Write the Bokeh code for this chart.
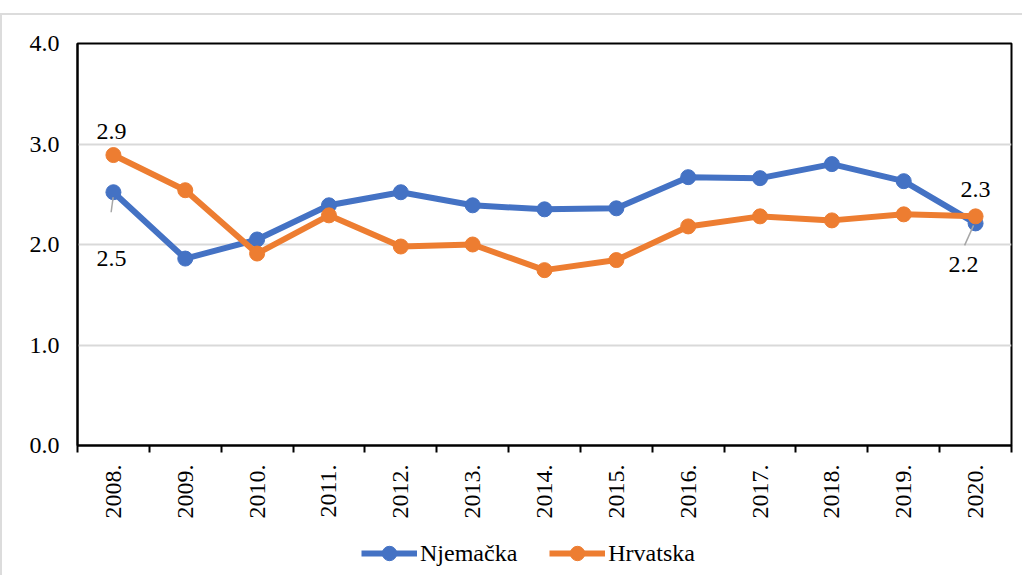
from math import pi
from bokeh.plotting import figure
from bokeh.layouts import column
from bokeh.models import (Range1d, FixedTicker, Legend, LegendItem,
                          ColumnDataSource, NumeralTickFormatter)
from bokeh.embed import file_html
from bokeh.resources import INLINE
from bokeh.core.properties import value

# ---- data ----
years = ["2008.", "2009.", "2010.", "2011.", "2012.", "2013.", "2014.",
         "2015.", "2016.", "2017.", "2018.", "2019.", "2020."]
njemacka = [2.52, 1.86, 2.05, 2.39, 2.52, 2.39, 2.35, 2.36, 2.67, 2.66, 2.80, 2.63, 2.21]
hrvatska = [2.89, 2.54, 1.91, 2.29, 1.98, 2.00, 1.745, 1.845, 2.18, 2.28, 2.24, 2.30, 2.28]
y_ticks = [0, 1, 2, 3, 4]
series_names = ["Njemačka", "Hrvatska"]

BLUE = "#4472C4"
ORANGE = "#ED7D31"
FONT = "'Liberation Serif', 'Times New Roman', serif"
FS = "24px"

idx = list(range(len(years)))

p = figure(width=1020, height=515, output_backend="svg", toolbar_location=None,
           x_range=Range1d(-0.5, len(years) - 0.5), y_range=Range1d(0, 4),
           min_border_left=75, min_border_top=28, min_border_right=11,
           min_border_bottom=85)

p.outline_line_color = "black"
p.outline_line_width = 2
p.background_fill_color = "white"
p.border_fill_color = "white"

# axes
xa = p.xaxis[0]
xa.ticker = FixedTicker(ticks=idx, minor_ticks=[i - 0.5 for i in range(len(years) + 1)])
xa.major_label_overrides = {i: years[i] for i in idx}
xa.major_label_orientation = pi / 2
xa.major_tick_out = 0
xa.major_tick_in = 0
xa.minor_tick_out = 7
xa.minor_tick_in = 0
xa.minor_tick_line_color = "black"
xa.minor_tick_line_width = 2
xa.axis_line_color = "black"
xa.axis_line_width = 2
xa.major_label_text_font = FONT
xa.major_label_text_font_size = FS
xa.major_label_text_color = "black"
xa.major_label_standoff = 12

ya = p.yaxis[0]
ya.ticker = FixedTicker(ticks=y_ticks, minor_ticks=[])
ya.formatter = NumeralTickFormatter(format="0.0")
ya.major_tick_out = 0
ya.major_tick_in = 0
ya.minor_tick_out = 0
ya.minor_tick_in = 0
ya.axis_line_color = "black"
ya.axis_line_width = 2
ya.major_label_text_font = FONT
ya.major_label_text_font_size = FS
ya.major_label_text_color = "black"
ya.major_label_standoff = 18

p.xgrid.visible = False
p.ygrid.ticker = FixedTicker(ticks=y_ticks[1:-1])
p.ygrid.grid_line_color = "#d9d9d9"
p.ygrid.grid_line_width = 2

src = ColumnDataSource(dict(x=idx, n=njemacka, h=hrvatska))

p.line("x", "n", source=src, color=BLUE, line_width=6)
p.scatter("x", "n", source=src, color=BLUE, size=15)
p.line("x", "h", source=src, color=ORANGE, line_width=6)
p.scatter("x", "h", source=src, color=ORANGE, size=15)

# data labels (first & last of each series)
first, last = 0, len(years) - 1
lab = ColumnDataSource(dict(
    x=[first, first, last, last],
    y=[hrvatska[first], njemacka[first], hrvatska[last], njemacka[last]],
    t=[f"{hrvatska[first]:.1f}", f"{njemacka[first]:.1f}",
       f"{hrvatska[last]:.1f}", f"{njemacka[last]:.1f}"],
    xo=[-2, -2, 0, -12],
    yo=[-24, 66, -27, 41],
))
p.text("x", "y", text="t", source=lab, x_offset="xo", y_offset="yo",
       text_font=value(FONT), text_font_size=FS, text_color="black",
       text_align="center", text_baseline="middle")

# leader lines for the labels below the blue points (pixel offsets -> data)
pxx = (len(years)) / 934.0
pxy = 4.0 / 402.0
p.segment(x0=[first - 0.3 * pxx, last - 2 * pxx],
          y0=[njemacka[first] - 5 * pxy, njemacka[last] - 2 * pxy],
          x1=[first - 2.3 * pxx, last - 11 * pxx],
          y1=[njemacka[first] - 20 * pxy, njemacka[last] - 22 * pxy],
          line_color="#a6a6a6", line_width=1.5)

# ---- legend strip (series drawn out of its visible range; only the legend shows) ----
p2 = figure(width=1020, height=45, output_backend="svg", toolbar_location=None,
            x_range=Range1d(100, 101), y_range=Range1d(100, 101),
            x_axis_location=None, y_axis_location=None,
            min_border_left=0, min_border_right=0, min_border_top=0,
            min_border_bottom=0)
p2.outline_line_color = None
p2.grid.visible = False
p2.background_fill_color = "white"
p2.border_fill_color = "white"
r1 = p2.line("x", "n", source=src, color=BLUE, line_width=6)
m1 = p2.scatter("x", "n", source=src, color=BLUE, size=15)
r2 = p2.line("x", "h", source=src, color=ORANGE, line_width=6)
m2 = p2.scatter("x", "h", source=src, color=ORANGE, size=15)

legend = Legend(items=[LegendItem(label=series_names[0], renderers=[r1, m1]),
                       LegendItem(label=series_names[1], renderers=[r2, m2])],
                orientation="horizontal", location=(284, 4),
                glyph_width=56, glyph_height=36, label_height=36,
                label_standoff=3, spacing=32, padding=0, margin=0,
                border_line_alpha=0, background_fill_alpha=0,
                label_text_font=FONT, label_text_font_size=FS,
                label_text_color="black")
p2.add_layout(legend)

layout = column(p, p2, spacing=0,
                styles={"border-top": "2px solid #dcdcdc",
                        "border-left": "2px solid #dcdcdc",
                        "margin-top": "13px"})

open("out.html", "w").write(file_html(layout, INLINE))
